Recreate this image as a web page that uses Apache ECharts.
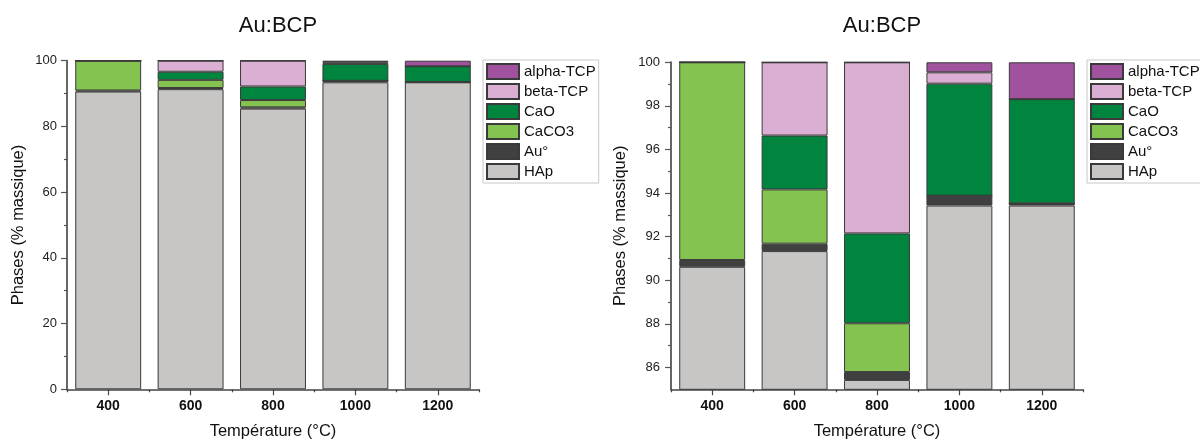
<!DOCTYPE html>
<html>
<head>
<meta charset="utf-8">
<script src="https://cdn.jsdelivr.net/npm/echarts@6/dist/echarts.min.js"></script>
<style>
html,body{margin:0;padding:0;background:#fff;}
#chart{width:1200px;height:441px;}
</style>
</head>
<body>
<div id="chart"></div>
<script>
// ---- data ----
const categories = ['400', '600', '800', '1000', '1200'];
const HAp      = [90.62, 91.34, 85.43, 93.43, 93.43];
const Au       = [0.31, 0.34, 0.36, 0.45, 0.10];
const CaCO3    = [9.07, 2.49, 2.24, 0, 0];
const CaO      = [0, 2.47, 4.12, 5.14, 4.78];
const betaTCP  = [0, 3.36, 7.85, 0.52, 0];
const alphaTCP = [0, 0, 0, 0.46, 1.69];
const rightMajorTicks = [86, 88, 90, 92, 94, 96, 98, 100];
const rightMinorTicks = [87, 89, 91, 93, 95, 97, 99];
const legendOrder = ['alpha-TCP', 'beta-TCP', 'CaO', 'CaCO3', 'Au°', 'HAp'];
const titleText = 'Au:BCP';
const xName = 'Température (°C)';
const yName = 'Phases (% massique)';

// ---- styles ----
const colors = {
  'HAp': '#C7C6C4',
  'Au°': '#404040',
  'CaCO3': '#84C350',
  'CaO': '#00853F',
  'beta-TCP': '#DBAED3',
  'alpha-TCP': '#A0529F'
};
const stackSeries = [
  ['HAp', HAp], ['Au°', Au], ['CaCO3', CaCO3], ['CaO', CaO], ['beta-TCP', betaTCP], ['alpha-TCP', alphaTCP]
];
const FONT = '"Liberation Sans", Arial, sans-serif';
const axisColor = '#444';

function makeSeries(xIdx, yIdx, stackName) {
  return stackSeries.map(([name, vals]) => ({
    name: name,
    type: 'bar',
    stack: stackName,
    xAxisIndex: xIdx,
    yAxisIndex: yIdx,
    barCategoryGap: '20%',
    data: vals,
    itemStyle: { color: colors[name], borderColor: '#3a3a3a', borderWidth: 1 },
    emphasis: { disabled: true }
  }));
}

function makeXAxes(gridIndex) {
  return [
    {
      type: 'category', gridIndex: gridIndex, data: categories, position: 'bottom',
      axisLine: { lineStyle: { color: axisColor, width: 1.5 } },
      axisTick: { show: true, length: 3, lineStyle: { color: axisColor, width: 1.2 } },
      axisLabel: { color: '#111', fontWeight: 'bold', fontSize: 14, fontFamily: FONT, margin: 10 },
      name: xName, nameLocation: 'middle', nameGap: 34,
      nameTextStyle: { fontSize: 16.5, color: '#111', fontFamily: FONT }
    },
    {
      type: 'category', gridIndex: gridIndex, data: categories, position: 'bottom',
      axisLine: { show: false },
      axisTick: { show: true, alignWithLabel: true, length: 6, lineStyle: { color: axisColor, width: 1.2 } },
      axisLabel: { show: false }
    }
  ];
}

const legendCommon = {
  orient: 'vertical',
  icon: 'rect',
  itemWidth: 32,
  itemHeight: 15,
  itemGap: 3,
  padding: 3,
  borderColor: '#c8c8c8',
  borderWidth: 1,
  selectedMode: false,
  textStyle: { fontSize: 15, lineHeight: 15, color: '#111', fontFamily: FONT },
  data: legendOrder
};

const option = {
  animation: false,
  backgroundColor: '#fff',
  title: [
    { text: titleText, left: 273, top: 10, textAlign: 'center',
      textStyle: { fontSize: 22, fontWeight: 'normal', color: '#111', fontFamily: FONT } },
    { text: titleText, left: 877, top: 10, textAlign: 'center',
      textStyle: { fontSize: 22, fontWeight: 'normal', color: '#111', fontFamily: FONT } }
  ],
  legend: [
    Object.assign({}, legendCommon, { left: 483, top: 60 }),
    Object.assign({}, legendCommon, { left: 1087, top: 60 })
  ],
  grid: [
    { left: 67, top: 60.7, width: 412, height: 328.6, outerBoundsMode: 'none', containLabel: false },
    { left: 671, top: 62.3, width: 412, height: 327, outerBoundsMode: 'none', containLabel: false }
  ],
  xAxis: makeXAxes(0).concat(makeXAxes(1)),
  yAxis: [
    {
      type: 'value', gridIndex: 0, position: 'left', min: 0, max: 100, interval: 20,
      splitLine: { show: false },
      axisLine: { show: true, lineStyle: { color: '#666', width: 2 } },
      axisTick: { show: true, length: 6, lineStyle: { color: '#555', width: 1.2 } },
      minorTick: { show: true, splitNumber: 2, length: 3, lineStyle: { color: '#555', width: 1.2 } },
      axisLabel: { color: '#222', fontSize: 13, fontFamily: FONT, margin: 10 },
      name: yName, nameLocation: 'middle', nameGap: 40,
      nameTextStyle: { fontSize: 16.5, color: '#111', fontFamily: FONT }
    },
    {
      type: 'value', gridIndex: 1, position: 'left', min: 85, max: 100,
      splitLine: { show: false },
      axisLine: { show: true, lineStyle: { color: '#666', width: 2 } },
      axisTick: { show: true, length: 6, customValues: rightMajorTicks, lineStyle: { color: '#555', width: 1.2 } },
      axisLabel: { color: '#222', fontSize: 13, fontFamily: FONT, margin: 11, customValues: rightMajorTicks },
      name: yName, nameLocation: 'middle', nameGap: 42,
      nameTextStyle: { fontSize: 16.5, color: '#111', fontFamily: FONT }
    },
    {
      type: 'value', gridIndex: 1, position: 'left', offset: 0, min: 85, max: 100,
      splitLine: { show: false },
      axisLine: { show: false },
      axisTick: { show: true, length: 3, customValues: rightMinorTicks, lineStyle: { color: '#555', width: 1.2 } },
      axisLabel: { show: false }
    }
  ],
  series: makeSeries(0, 0, 'left').concat(makeSeries(2, 1, 'right'))
};

const chart = echarts.init(document.getElementById('chart'), null, { renderer: 'canvas' });
chart.setOption(option);
</script>
</body>
</html>
